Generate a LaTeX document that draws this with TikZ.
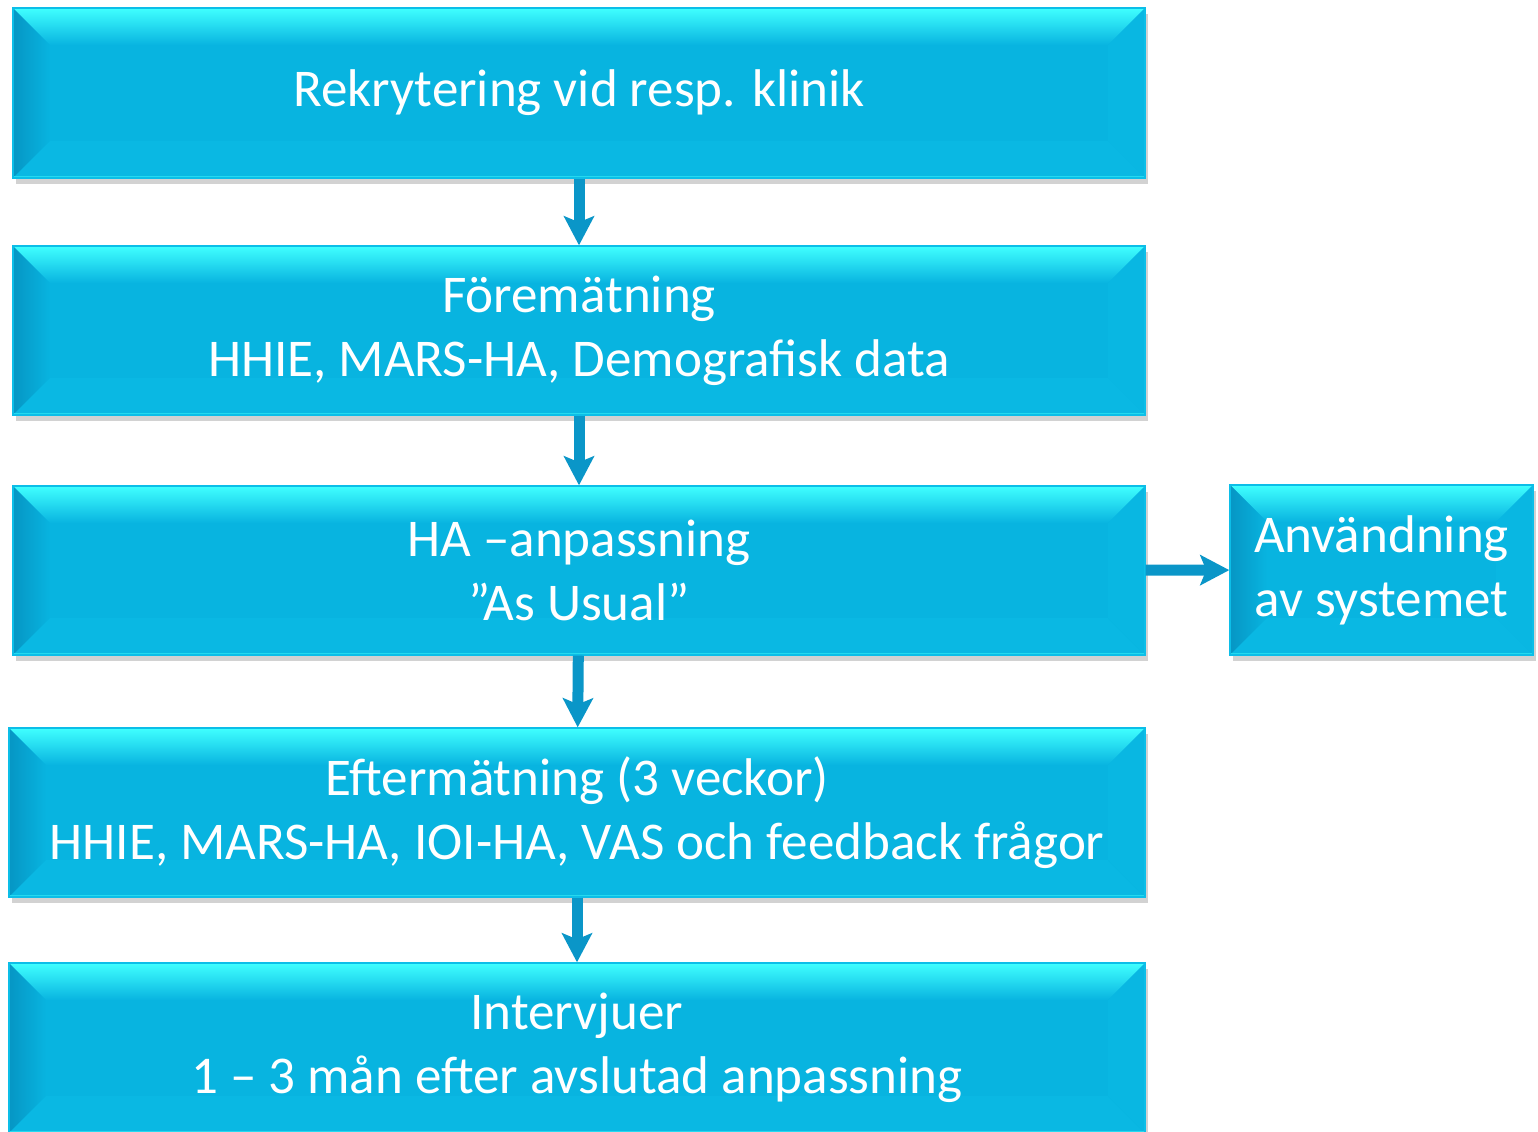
\documentclass[tikz,border=0pt]{standalone}
\usepackage{fontspec}
\setmainfont{Carlito}
\usepackage{tikz}
\usetikzlibrary{arrows.meta, positioning, shadows}
\definecolor{boxblue}{RGB}{8, 180, 224}
\definecolor{bevtop}{RGB}{64, 255, 255}
\definecolor{bevdark}{RGB}{6, 150, 196}
\definecolor{bevlight}{RGB}{12, 190, 232}
\definecolor{arrowblue}{RGB}{10, 150, 200}

\tikzset{
  stepbox/.style={fill=boxblue, draw=bevlight, line width=0.4pt, text=white, align=center, inner sep=0pt,
    font=\fontsize{15.1}{18.2}\selectfont,
    drop shadow={shadow xshift=0.03cm, shadow yshift=-0.06cm, opacity=0.25, fill=black!70},
    path picture={
      \coordinate (pNW) at (path picture bounding box.north west);
      \coordinate (pNE) at (path picture bounding box.north east);
      \coordinate (pSW) at (path picture bounding box.south west);
      \coordinate (pSE) at (path picture bounding box.south east);
      % bevel edges
      \shade[top color=bevtop, bottom color=boxblue] (pNW) -- (pNE) -- ([shift={(-0.37,-0.37)}]pNE) -- ([shift={(0.37,-0.37)}]pNW) -- cycle;
      \shade[left color=bevdark, right color=boxblue] (pNW) -- ([shift={(0.37,-0.37)}]pNW) -- ([shift={(0.37,0.37)}]pSW) -- (pSW) -- cycle;
      \fill[bevlight!40!boxblue] (pSW) -- ([shift={(0.37,0.37)}]pSW) -- ([shift={(-0.37,0.37)}]pSE) -- (pSE) -- cycle;
      \fill[bevlight!30!boxblue] (pNE) -- ([shift={(-0.37,-0.37)}]pNE) -- ([shift={(-0.37,0.37)}]pSE) -- (pSE) -- cycle;
      \draw[bevtop!50!boxblue, line width=1pt] (pSW) -- (pSE);
    }},
  flowarrow/.style={-{Stealth[length=0.29cm, width=0.3cm, inset=0.06cm]}, line width=0.11cm, arrowblue}
}

\begin{document}
\begin{tikzpicture}
  \useasboundingbox (0,-11.31) rectangle (15.38,0);

  % Main flow
  \node[stepbox, minimum width=11.32cm, minimum height=1.70cm] (rekr) at (5.79,-0.93) {Rekrytering vid resp. klinik};
  \node[stepbox, minimum width=11.32cm, minimum height=1.69cm] (fore) at (5.79,-3.305) {Föremätning\\HHIE, MARS-HA, Demografisk data};
  \node[stepbox, minimum width=11.32cm, minimum height=1.69cm] (anp) at (5.79,-5.705) {HA –anpassning\\”As Usual”};
  \node[stepbox, minimum width=11.36cm, minimum height=1.69cm] (efter) at (5.77,-8.125) {Eftermätning (3 veckor)\\HHIE, MARS-HA, IOI-HA, VAS och feedback frågor};
  \node[stepbox, minimum width=11.36cm, minimum height=1.70cm] (intv) at (5.77,-10.48) {Intervjuer\\1 – 3 mån efter avslutad anpassning};

  % Side box
  \node[stepbox, minimum width=3.03cm, minimum height=1.70cm] (anv) at (13.815,-5.70) {Användning\\av systemet};

  % Arrows
  \draw[flowarrow] (rekr) -- (fore);
  \draw[flowarrow] (fore) -- (anp);
  \draw[flowarrow] (anp) -- (efter);
  \draw[flowarrow] (efter) -- (intv);
  \draw[flowarrow] (anp) -- (anv);
\end{tikzpicture}
\end{document}
